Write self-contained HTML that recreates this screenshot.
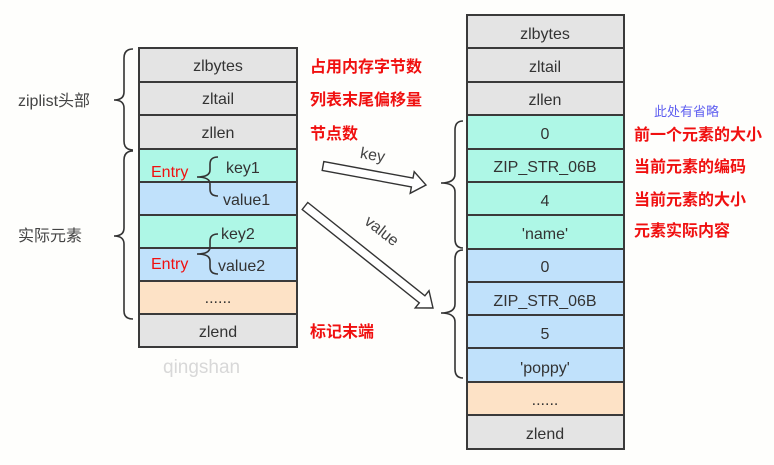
<!DOCTYPE html>
<html><head><meta charset="utf-8"><style>
html,body{margin:0;padding:0;background:#fefefc;}
svg{display:block;font-family:"Liberation Sans","Noto Sans CJK SC",sans-serif;}
</style></head><body>
<svg width="774" height="465" viewBox="0 0 774 465" xmlns="http://www.w3.org/2000/svg">
<g stroke="#3a3a3a" stroke-width="2">
<rect x="139" y="48" width="158" height="34" fill="#e4e4e4"/>
<rect x="139" y="82" width="158" height="33" fill="#e4e4e4"/>
<rect x="139" y="115" width="158" height="34" fill="#e4e4e4"/>
<rect x="139" y="149" width="158" height="33" fill="#aef7e6"/>
<rect x="139" y="182" width="158" height="33" fill="#c0e1fb"/>
<rect x="139" y="215" width="158" height="33" fill="#aef7e6"/>
<rect x="139" y="248" width="158" height="33" fill="#c0e1fb"/>
<rect x="139" y="281" width="158" height="33" fill="#fde2c6"/>
<rect x="139" y="314" width="158" height="33" fill="#e4e4e4"/>
</g>
<g font-size="16" fill="#333" text-anchor="middle">
<text x="218" y="71">zlbytes</text>
<text x="218" y="104">zltail</text>
<text x="218" y="138">zllen</text>
<text x="218" y="303">......</text>
<text x="218" y="337">zlend</text>
</g>
<g font-size="16" fill="#333">
<text x="226" y="173">key1</text>
<text x="223" y="205">value1</text>
<text x="221" y="239">key2</text>
<text x="218" y="271">value2</text>
</g>
<g font-size="16" fill="#f01010">
<text x="151" y="177">Entry</text>
<text x="151" y="269">Entry</text>
</g>
<g fill="none" stroke="#333" stroke-width="1.6">
<path d="M133,49 Q124,49 124,58 L124,92 Q124,100 114,100 Q124,100 124,108 L124,141 Q124,150 133,150"/>
<path d="M133,151 Q124,151 124,160 L124,228 Q124,236 114,236 Q124,236 124,244 L124,311 Q124,319 133,319"/>
<path d="M218,157 Q210,157 210,164 L210,170 Q210,177 197,177 Q210,177 210,184 L210,189 Q210,196 218,196"/>
<path d="M218,234 Q210,234 210,241 L210,247 Q210,254 197,254 Q210,254 210,261 L210,267 Q210,274 218,274"/>
<path d="M463,121 Q455,121 455,130 L455,174 Q455,183 441,183 Q455,183 455,192 L455,239 Q455,248 463,248"/>
<path d="M463,250 Q455,250 455,259 L455,304 Q455,313 441,313 Q455,313 455,322 L455,369 Q455,378 463,378"/>
</g>
<text x="18" y="106" font-size="16" fill="#444">ziplist头部</text>
<text x="18" y="241" font-size="16" fill="#444">实际元素</text>
<g font-size="16" fill="#f01010" font-weight="bold">
<text x="310" y="72">占用内存字节数</text>
<text x="310" y="105">列表末尾偏移量</text>
<text x="310" y="139">节点数</text>
<text x="310" y="337">标记末端</text>
<text x="634" y="140">前一个元素的大小</text>
<text x="634" y="172">当前元素的编码</text>
<text x="634" y="205">当前元素的大小</text>
<text x="634" y="236">元素实际内容</text>
</g>
<text x="654" y="116" font-size="13" fill="#6060f0">此处有省略</text>
<text x="163" y="373" font-size="19" fill="#d8d8d8">qingshan</text>
<g fill="#fff" stroke="#333" stroke-width="1.4" stroke-linejoin="miter">
<polygon points="323.8,161.6 413,178.1 414.2,171.7 426,185 410.2,193.3 411.4,186.9 322.2,170.4"/>
<polygon points="307.8,202.5 424.9,295.8 429,290.7 433,308 415.2,307.9 419.3,302.8 302.2,209.5"/>
</g>
<text x="360" y="160" font-size="16" fill="#444" transform="rotate(10 372 156)">key</text>
<text x="355" y="232" font-size="16" fill="#444" transform="rotate(38 372 240)">value</text>
<g stroke="#3a3a3a" stroke-width="2">
<rect x="467" y="15" width="157" height="33" fill="#e4e4e4"/>
<rect x="467" y="48" width="157" height="34" fill="#e4e4e4"/>
<rect x="467" y="82" width="157" height="33" fill="#e4e4e4"/>
<rect x="467" y="115" width="157" height="34" fill="#aef7e6"/>
<rect x="467" y="149" width="157" height="33" fill="#aef7e6"/>
<rect x="467" y="182" width="157" height="33" fill="#aef7e6"/>
<rect x="467" y="215" width="157" height="34" fill="#aef7e6"/>
<rect x="467" y="249" width="157" height="33" fill="#c0e1fb"/>
<rect x="467" y="282" width="157" height="33" fill="#c0e1fb"/>
<rect x="467" y="315" width="157" height="33" fill="#c0e1fb"/>
<rect x="467" y="348" width="157" height="34" fill="#c0e1fb"/>
<rect x="467" y="382" width="157" height="33" fill="#fde2c6"/>
<rect x="467" y="415" width="157" height="34" fill="#e4e4e4"/>
</g>
<g font-size="16" fill="#333" text-anchor="middle">
<text x="545" y="39">zlbytes</text>
<text x="545" y="72">zltail</text>
<text x="545" y="105">zllen</text>
<text x="545" y="139">0</text>
<text x="545" y="172">ZIP_STR_06B</text>
<text x="545" y="206">4</text>
<text x="545" y="239">'name'</text>
<text x="545" y="272">0</text>
<text x="545" y="306">ZIP_STR_06B</text>
<text x="545" y="339">5</text>
<text x="545" y="373">'poppy'</text>
<text x="545" y="405">......</text>
<text x="545" y="439">zlend</text>
</g>
</svg>
</body></html>
